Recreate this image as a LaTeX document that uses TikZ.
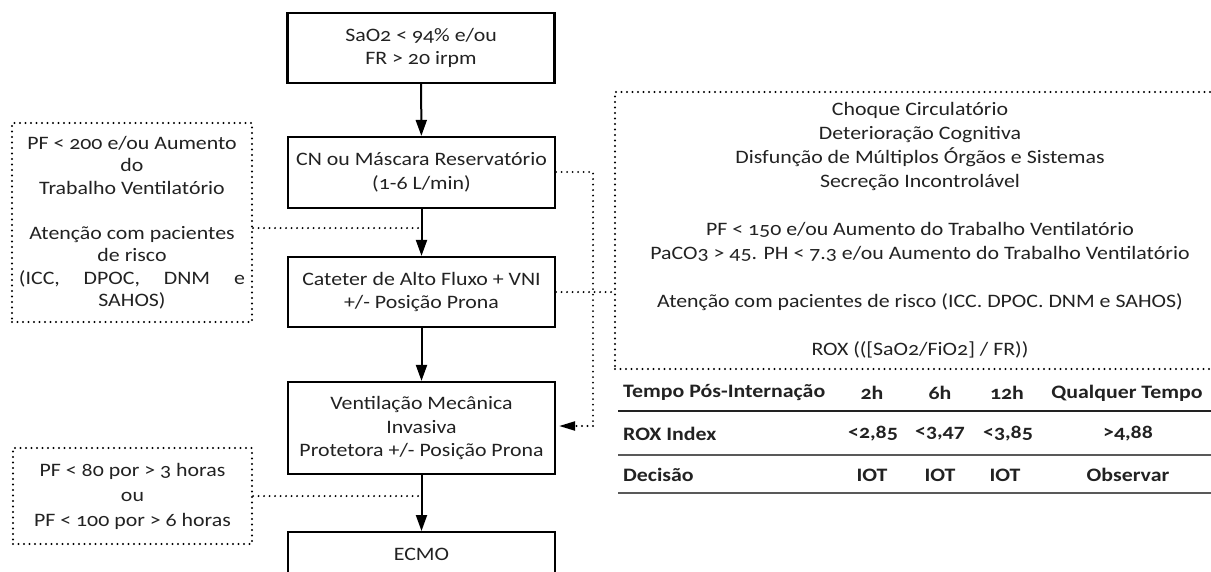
\documentclass[tikz,border=0pt]{standalone}
\usepackage{fontspec}
\setmainfont{Carlito}[Numbers=OldStyle,FakeStretch=1.15]
\usetikzlibrary{arrows.meta}
\definecolor{txt}{HTML}{222222}
\begin{document}
\begin{tikzpicture}[x=1pt,y=-1pt,
  box/.style={draw=black, line width=2.2pt, minimum width=267pt, align=center,
    font=\fontsize{19}{23.5}\selectfont, text=txt, inner sep=0pt},
  dotbox/.style={draw=black, line width=2.2pt, dash pattern=on 0pt off 5.5pt, line cap=round,
    align=center, font=\fontsize{19}{22.5}\selectfont, text=txt, inner sep=0pt},
  dots/.style={line width=2.2pt, dash pattern=on 0pt off 5.5pt, line cap=round},
  flow/.style={line width=2pt, -{Triangle[length=16pt,width=11pt]}},
  tb/.style={font=\fontsize{19}{20}\selectfont\bfseries, text=txt, inner sep=0pt},
  rule/.style={line width=2.4pt, draw=#1},
]
\useasboundingbox (0,0) rectangle (1211,571);
\fill[white] (0,0) rectangle (1211,571);

% main flow boxes
\node[box, minimum height=70pt] (top) at (421,48) {SaO2 < 94\% e/ou\\FR > 20 irpm};
\node[box, minimum height=71pt] (cn) at (421.5,172.5) {CN ou Máscara Reservatório\\(1-6 L/min)};
\node[box, minimum height=70pt] (cat) at (421.5,292) {Cateter de Alto Fluxo + VNI\\+/- Posição Prona};
\node[box, minimum height=92pt] (vent) at (421.5,428) {Ventilação Mecânica\\Invasiva\\Protetora +/- Posição Prona};
\node[box, minimum height=45pt, anchor=north] (ecmo) at (421.5,531) {ECMO};

% dotted side boxes
\node[dotbox, minimum width=240pt, minimum height=199pt] (left1) at (132,222.5)
  {PF < 200 e/ou Aumento\\do\\Trabalho Ventilatório\\[22.5pt]Atenção com pacientes\\de risco\\\makebox[226pt]{(ICC,\hfill DPOC,\hfill DNM\hfill e}\\SAHOS)};
\node[dotbox, minimum width=239pt, minimum height=96pt, font=\fontsize{19}{25}\selectfont] (left2) at (132.5,496)
  {PF < 80 por > 3 horas\\ou\\PF < 100 por > 6 horas};
\node[dotbox, minimum width=610pt, minimum height=277pt, font=\fontsize{19}{24}\selectfont] (rbox) at (920,230.5)
  {Choque Circulatório\\Deterioração Cognitiva\\Disfunção de Múltiplos Órgãos e Sistemas\\Secreção Incontrolável\\[24pt]
   PF < 150 e/ou Aumento do Trabalho Ventilatório\\PaCO3 > 45. PH < 7.3 e/ou Aumento do Trabalho Ventilatório\\[24pt]
   Atenção com pacientes de risco (ICC. DPOC. DNM e SAHOS)\\[24pt]
   ROX (([SaO2/FiO2] / FR))};

% flow arrows
\draw[flow] (top) -- (cn);
\draw[flow] (cn) -- (cat);
\draw[flow] (cat) -- (vent);
\draw[flow] (vent) -- (ecmo);

% dotted connectors
\coordinate (j1) at (421,228);
\draw[dots] (left1.east |- j1) -- (j1);
\coordinate (c1) at (593,172);
\coordinate (c2) at (593,426);
\draw[dots] (cn.east |- c1) -- (c1) -- (c2);
\draw[dots, -{Triangle[length=16pt,width=9pt]}, shorten >=3pt] (c2) -- (vent.east |- c2);
\draw[dots] (cat.east) -- (rbox.west |- cat.east);
\coordinate (j2) at (422,496);
\draw[dots] (left2.east) -- (j2);

% table
\node[tb, anchor=west] (h0) at (623,393) {Tempo Pós-Internação};
\node[tb] (h1) at (872,393) {2h};
\node[tb] (h2) at (940,393) {6h};
\node[tb] (h3) at (1007,393) {12h};
\node[tb] (h4) at (1127,393) {Qualquer Tempo};
\node[tb, anchor=west] (r0) at (623,434) {ROX Index};
\node[tb] (r1) at (873,434) {<2,85};
\node[tb] (r2) at (940,434) {<3,47};
\node[tb] (r3) at (1008,434) {<3,85};
\node[tb] (r4) at (1128,434) {>4,88};
\node[tb, anchor=west] (d0) at (623,475) {Decisão};
\node[tb] (d1) at (872,475) {IOT};
\node[tb] (d2) at (940,475) {IOT};
\node[tb] (d3) at (1005,475) {IOT};
\node[tb] (d4) at (1128,475) {Observar};
\draw[rule=txt] (618,411) -- (1211,411);
\draw[rule=black!65] (618,455) -- (1211,455);
\draw[rule=black!65] (618,493) -- (1211,493);
\end{tikzpicture}
\end{document}
